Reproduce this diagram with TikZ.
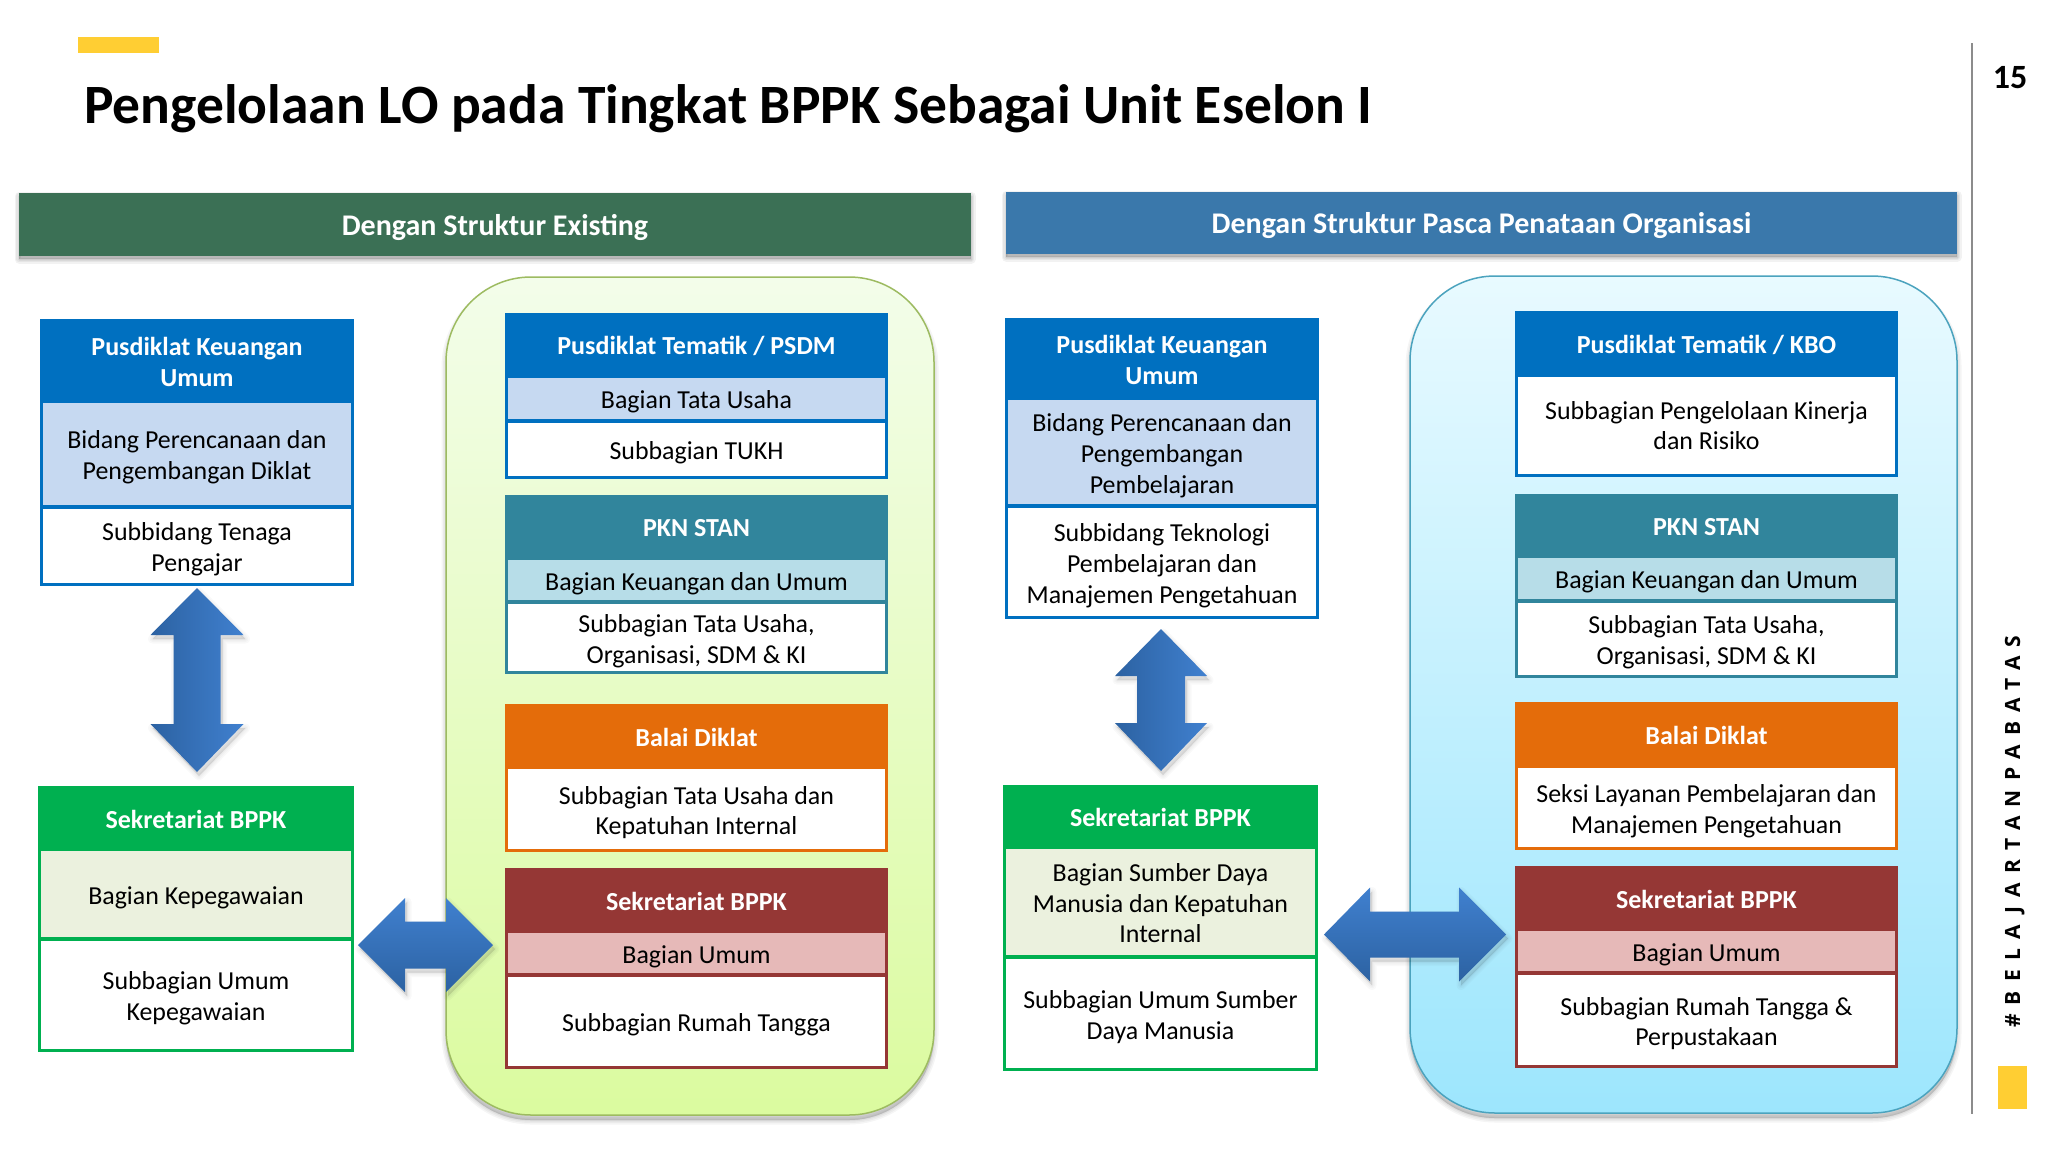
\documentclass[tikz,border=0pt]{standalone}
\usepackage{fontspec}
\setmainfont{Carlito}
\newfontfamily\sidefont{Open Sans}
\usetikzlibrary{calc}
\definecolor{cBlue}{HTML}{0070C0}\definecolor{cBlueL}{HTML}{C6D9F1}
\definecolor{cTeal}{HTML}{31859C}\definecolor{cTealL}{HTML}{B7DDE8}
\definecolor{cOrange}{HTML}{E46C0A}
\definecolor{cRed}{HTML}{953735}\definecolor{cRedL}{HTML}{E6B9B8}
\definecolor{cGreen}{HTML}{00B050}\definecolor{cGreenL}{HTML}{EBF1DE}
\definecolor{cBandG}{HTML}{3B7055}\definecolor{cBandB}{HTML}{3A78AB}
\definecolor{cYellow}{HTML}{FFCE33}
\definecolor{cPanelGT}{HTML}{F3FDEA}\definecolor{cPanelGB}{HTML}{DBFB9F}\definecolor{cPanelGE}{HTML}{9DBB61}
\definecolor{cPanelBT}{HTML}{E8FAFF}\definecolor{cPanelBB}{HTML}{9DE6FD}\definecolor{cPanelBE}{HTML}{4BA3BE}
\definecolor{arrowDark}{HTML}{2C62A2}\definecolor{arrowLight}{HTML}{4080CF}
\tikzset{
  cellbase/.style={rectangle,inner sep=0pt,outer sep=0pt,line width=3pt},
  bodytext/.style={inner sep=0pt,align=center,font=\fontsize{25.9}{30.7}\selectfont,text=black},
  headtext/.style={inner sep=0pt,align=center,font=\bfseries\fontsize{26}{30.7}\selectfont,text=white},
  hBlue/.style={cellbase,draw=cBlue,fill=cBlue}, mBlue/.style={cellbase,draw=cBlue,fill=cBlueL}, wBlue/.style={cellbase,draw=cBlue,fill=white},
  hTeal/.style={cellbase,draw=cTeal,fill=cTeal}, mTeal/.style={cellbase,draw=cTeal,fill=cTealL}, wTeal/.style={cellbase,draw=cTeal,fill=white},
  hOrange/.style={cellbase,draw=cOrange,fill=cOrange}, wOrange/.style={cellbase,draw=cOrange,fill=white},
  hRed/.style={cellbase,draw=cRed,fill=cRed}, mRed/.style={cellbase,draw=cRed,fill=cRedL}, wRed/.style={cellbase,draw=cRed,fill=white},
  hGreen/.style={cellbase,draw=cGreen,fill=cGreen}, mGreen/.style={cellbase,draw=cGreen,fill=cGreenL}, wGreen/.style={cellbase,draw=cGreen,fill=white},
  band/.style={rectangle,inner sep=0pt,outer sep=0pt},
  bandtext/.style={inner sep=0pt,text=white,font=\bfseries\fontsize{30}{34}\selectfont},
}
% header cell: name, x1, y1, x2, y2, style, text
\newcommand{\headcell}[7]{%
  \pgfmathsetmacro{\cx}{(#2+#4)/2}\pgfmathsetmacro{\cy}{(#3+#5)/2}%
  \pgfmathsetmacro{\cw}{#4-#2-3}\pgfmathsetmacro{\ch}{#5-#3-3}%
  \node[#6,minimum width=\cw pt,minimum height=\ch pt] (#1) at (\cx,\cy) {};%
  \node[headtext,yshift=-1.2pt] (#1t) at (#1.center) {#7};%
}
% body cell: its top border overlaps the cell above
\newcommand{\txtshift}{-3.8pt}
\newcommand{\bodycell}[7]{%
  \pgfmathsetmacro{\cx}{(#2+#4)/2}\pgfmathsetmacro{\cy}{(#3-2.5+#5)/2}%
  \pgfmathsetmacro{\cw}{#4-#2-3}\pgfmathsetmacro{\ch}{#5-#3-0.5}%
  \node[#6,minimum width=\cw pt,minimum height=\ch pt] (#1) at (\cx,\cy) {};%
  \node[bodytext,yshift=\txtshift] (#1t) at (#1.center) {#7};%
}
% soft shadow of a path given as argument 1
\newcommand{\softshadow}[3]{%
  \foreach \w in {9,6,3,1}{\path[draw=black,fill=black,draw opacity=#3,fill opacity=#3,line width=\w pt,line join=round,shift={(#2)}] #1;}%
}
% vertical double arrow: cx, top, headbase1, headbase2, bottom, halfhead, halfshaft
\newcommand{\vdouble}[7]{%
  \def\thepath{(#1,#2) -- (#1+#6,#3) -- (#1+#7,#3) -- (#1+#7,#4) -- (#1+#6,#4) -- (#1,#5) -- (#1-#6,#4) -- (#1-#7,#4) -- (#1-#7,#3) -- (#1-#6,#3) -- cycle}%
  \softshadow{\thepath}{2,4}{0.025}%
  \path[left color=arrowDark,right color=arrowLight] \thepath;%
}
% horizontal double arrow: left, base1, base2, right, cy, halfhead, halfshaft
\newcommand{\hdouble}[7]{%
  \def\thepath{(#1,#5) -- (#2,#5-#6) -- (#2,#5-#7) -- (#3,#5-#7) -- (#3,#5-#6) -- (#4,#5) -- (#3,#5+#6) -- (#3,#5+#7) -- (#2,#5+#7) -- (#2,#5+#6) -- cycle}%
  \softshadow{\thepath}{2,4}{0.025}%
  \path[top color=arrowLight,bottom color=arrowDark] \thepath;%
}
\begin{document}
\begin{tikzpicture}[x=1pt,y=-1pt]
\useasboundingbox (0,0) rectangle (2048,1152);
\fill[white] (0,0) rectangle (2048,1152);
% top decoration and title
\fill[cYellow] (78,37) rectangle (159,53);
\node[anchor=base west,inner sep=0pt,font=\bfseries\fontsize{55.5}{60}\selectfont] (title) at (84,123) {Pengelolaan LO pada Tingkat BPPK Sebagai Unit Eselon I};
% side furniture
\draw[line width=2.2pt,draw=black!45] (1972,43) -- (1972,1114);
\node[inner sep=0pt,font=\bfseries\fontsize{34}{38}\selectfont] (page) at (2010,78) {15};
\fill[cYellow] (1998,1066) rectangle (2027,1109);
\node[rotate=90,anchor=base west,inner sep=0pt,font=\sidefont\bfseries\fontsize{21}{24}\selectfont] (side) at (2020,1028) {\addfontfeature{LetterSpace=43.7}\#BELAJARTANPABATAS};
% bands
\softshadow{(19,193) rectangle (971,256)}{0,3}{0.05}
\softshadow{(1006,192) rectangle (1957,254)}{0,3}{0.05}
\node[band,fill=cBandG,minimum width=952pt,minimum height=63pt] (bandA) at (495,224.5) {};
\node[bandtext,yshift=-3pt] (bandAt) at (bandA.center) {Dengan Struktur Existing};
\node[band,fill=cBandB,minimum width=951pt,minimum height=62pt] (bandB) at (1481.5,223) {};
\node[bandtext,yshift=-3pt] (bandBt) at (bandB.center) {Dengan Struktur Pasca Penataan Organisasi};
% panels
\softshadow{[rounded corners=85pt] (446,277) rectangle (934,1115)}{0,5}{0.04}
\softshadow{[rounded corners=85pt] (1410,276) rectangle (1957,1113)}{0,5}{0.04}
\path[rounded corners=85pt,top color=cPanelGT,bottom color=cPanelGB,draw=cPanelGE,line width=1.5pt] (446,277) rectangle (934,1115);
\path[rounded corners=85pt,top color=cPanelBT,bottom color=cPanelBB,draw=cPanelBE,line width=1.5pt] (1410,276) rectangle (1957,1113);
% left group A
\headcell{a1h}{40}{319}{354}{402}{hBlue}{Pusdiklat Keuangan\\Umum}
\bodycell{a1m}{40}{402}{354}{508}{mBlue}{Bidang Perencanaan dan\\Pengembangan Diklat}
\bodycell{a1w}{40}{508}{354}{586}{wBlue}{Subbidang Tenaga\\Pengajar}
\headcell{a2h}{38}{786}{354}{850}{hGreen}{Sekretariat BPPK}
\bodycell{a2m}{38}{850}{354}{940}{mGreen}{Bagian Kepegawaian}
\bodycell{a2w}{38}{940}{354}{1052}{wGreen}{Subbagian Umum\\Kepegawaian}
% right group A
\headcell{a3h}{505}{313}{888}{377}{hBlue}{Pusdiklat Tematik / PSDM}
\bodycell{a3m}{505}{377}{888}{422}{mBlue}{Bagian Tata Usaha}
\bodycell{a3w}{505}{422}{888}{479}{wBlue}{Subbagian TUKH}
\headcell{a4h}{505}{495}{888}{559}{hTeal}{PKN STAN}
\bodycell{a4m}{505}{559}{888}{603}{mTeal}{Bagian Keuangan dan Umum}
\bodycell{a4w}{505}{603}{888}{674}{wTeal}{Subbagian Tata Usaha,\\Organisasi, SDM \& KI}
\headcell{a5h}{505}{704}{888}{768}{hOrange}{Balai Diklat}
\bodycell{a5w}{505}{768}{888}{852}{wOrange}{Subbagian Tata Usaha dan\\Kepatuhan Internal}
\headcell{a6h}{505}{868}{888}{932}{hRed}{Sekretariat BPPK}
\bodycell{a6m}{505}{932}{888}{976}{mRed}{Bagian Umum}
\bodycell{a6w}{505}{976}{888}{1069}{wRed}{Subbagian Rumah Tangga}
% left group B
\headcell{b1h}{1005}{318}{1319}{399}{hBlue}{Pusdiklat Keuangan\\Umum}
\bodycell{b1m}{1005}{399}{1319}{507}{mBlue}{Bidang Perencanaan dan\\Pengembangan\\Pembelajaran}
\bodycell{b1w}{1005}{507}{1319}{619}{wBlue}{Subbidang Teknologi\\Pembelajaran dan\\Manajemen Pengetahuan}
\headcell{b2h}{1003}{785}{1318}{848}{hGreen}{Sekretariat BPPK}
\renewcommand{\txtshift}{-1.4pt}
\bodycell{b2m}{1003}{848}{1318}{958}{mGreen}{Bagian Sumber Daya\\Manusia dan Kepatuhan\\Internal}
\renewcommand{\txtshift}{-3.8pt}
\bodycell{b2w}{1003}{958}{1318}{1071}{wGreen}{Subbagian Umum Sumber\\Daya Manusia}
% right group B
\headcell{b3h}{1515}{311}{1898}{376}{hBlue}{Pusdiklat Tematik / KBO}
\renewcommand{\txtshift}{-0.4pt}
\bodycell{b3w}{1515}{376}{1898}{477}{wBlue}{Subbagian Pengelolaan Kinerja\\dan Risiko}
\renewcommand{\txtshift}{-3.8pt}
\headcell{b4h}{1515}{494}{1898}{557}{hTeal}{PKN STAN}
\bodycell{b4m}{1515}{557}{1898}{602}{mTeal}{Bagian Keuangan dan Umum}
\bodycell{b4w}{1515}{602}{1898}{678}{wTeal}{Subbagian Tata Usaha,\\Organisasi, SDM \& KI}
\headcell{b5h}{1515}{702}{1898}{767}{hOrange}{Balai Diklat}
\bodycell{b5w}{1515}{767}{1898}{850}{wOrange}{Seksi Layanan Pembelajaran dan\\Manajemen Pengetahuan}
\headcell{b6h}{1515}{866}{1898}{930}{hRed}{Sekretariat BPPK}
\bodycell{b6m}{1515}{930}{1898}{974}{mRed}{Bagian Umum}
\bodycell{b6w}{1515}{974}{1898}{1068}{wRed}{Subbagian Rumah Tangga \&\\Perpustakaan}
% double arrows
\vdouble{197}{588}{635}{724}{772}{46.5}{23.5}
\vdouble{1161}{629}{676}{723}{771}{46}{24}
\hdouble{358}{405}{446}{493}{945}{47}{23.5}
\hdouble{1324}{1370}{1459}{1506}{934.5}{47}{23}
\end{tikzpicture}
\end{document}
